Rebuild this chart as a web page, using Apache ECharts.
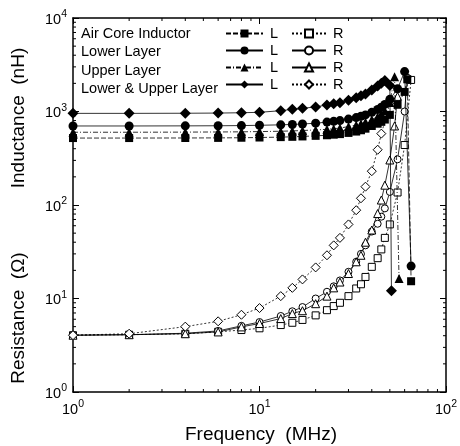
<!DOCTYPE html>
<html>
<head>
<meta charset="utf-8">
<script src="https://cdn.jsdelivr.net/npm/echarts@6/dist/echarts.min.js"></script>
<style>
  html, body { margin: 0; padding: 0; background: #fff; }
  #chart { width: 460px; height: 446px; }
</style>
</head>
<body>
<div id="chart"></div>
<script>
// Measured inductance (nH) and resistance (Ω) versus frequency (MHz)
const categories = ['Air Core Inductor', 'Lower Layer', 'Upper Layer', 'Lower & Upper Layer'];

const freqAirL = [1,2,4,6,8,10,13,15,17,20,23,25,27,30,33,35,37,40,43,45,47,50,55,60,62,65];
const airL     = [520,520,521,522,524,527,532,536,541,549,557,565,573,590,610,630,655,700,740,775,820,920,1180,1620,2210,15.3];
const freqAirR = [1,2,4,6,8,10,13,15,17,20,23,25,27,30,33,35,37,40,43,45,47,50,55,60,65];
const airR     = [4.05,4.1,4.2,4.4,4.6,4.8,5.2,5.5,5.9,6.6,7.5,8.3,9.0,10.6,12.8,14.2,17,21.8,27,33.5,44.5,62,136,438,2175];

const freqLowerL = [1,2,4,6,8,10,13,15,17,20,23,25,27,30,33,35,37,40,43,45,47,50,55,60,65];
const lowerL     = [700,700,702,704,707,712,720,727,735,750,770,785,800,830,860,890,920,980,1050,1110,1190,1350,1750,2670,22.2];
const freqLowerR = [1,2,4,6,8,10,13,15,17,20,23,25,27,30,33,35,37,40,43,45,47,50,55,60,62];
const lowerR     = [4.05,4.1,4.25,4.5,5.1,5.6,6.5,7.3,8.1,10,11.8,13.5,15.6,19.3,24.7,30,37,52,63,75,92,138,308,1000,2300];

const freqUpperL = [1,2,4,6,8,10,13,15,17,20,23,25,27,30,33,35,37,40,43,45,47,50,53,56];
const upperL     = [600,600,602,604,606,610,615,620,626,635,645,655,665,690,715,740,770,820,880,940,1020,1250,2350,16.4];
const freqUpperR = [1,2,4,6,8,10,13,15,17,20,23,25,27,30,33,35,37,40,43,45,47,50,53,55];
const upperR     = [4.05,4.1,4.2,4.39,4.97,5.4,6.1,6.9,7.4,8.8,10.6,13,15,18.5,24.7,29,40,54,81,113,163,303,700,1450];

const freqBothL = [1,2,4,6,8,10,13,15,17,20,23,25,27,30,33,35,37,40,43,45,47,50,51];
const bothL     = [955,955,958,962,970,980,1020,1055,1080,1120,1175,1210,1240,1320,1400,1470,1540,1700,1870,2000,2150,1900,12.1];
const freqBothR = [1,2,4,6,8,10,13,15,17,20,23,25,27,30,33,35,37,40,43,45,48,50];
const bothR     = [4.05,4.2,5.0,5.7,6.7,7.9,10.6,13,16,21.5,29,37,44.5,62,88,118,157,230,390,580,900,1250];

// Axis ranges and minor tick positions
const X_MIN = 1, X_MAX = 100, Y_MIN = 1, Y_MAX = 10000;
const minorSteps = [2,3,4,5,6,7,8,9];
const xDecades = [1, 10];
const yDecades = [1, 10, 100, 1000];

const FONT = '"Liberation Sans", Arial, sans-serif';

function pairs(xs, ys) { return xs.map((x, i) => [x, ys[i]]); }

const xMinor = [];
xDecades.forEach(d => minorSteps.forEach(s => xMinor.push([d * s, Y_MIN])));
const yMinor = [];
yDecades.forEach(d => minorSteps.forEach(s => yMinor.push([X_MIN, d * s])));

function tickLine(x1, y1, x2, y2) {
  return { type: 'line', shape: { x1, y1, x2, y2 }, style: { stroke: '#000', lineWidth: 1 } };
}
function renderXMinor(params, api) {
  const v = api.value(0);
  const b = api.coord([v, Y_MIN]);
  const t = api.coord([v, Y_MAX]);
  return { type: 'group', children: [tickLine(b[0], b[1], b[0], b[1] - 3), tickLine(t[0], t[1], t[0], t[1] + 3)] };
}
function renderYMinor(params, api) {
  const v = api.value(1);
  const l = api.coord([X_MIN, v]);
  const r = api.coord([X_MAX, v]);
  return { type: 'group', children: [tickLine(l[0], l[1], l[0] + 3, l[1]), tickLine(r[0], r[1], r[0] - 3, r[1])] };
}

function powLabel(value) {
  const e = Math.round(Math.log10(value));
  return '{b|10}{s|' + e + '}';
}
const powRich = {
  b: { fontSize: 14.5, fontFamily: FONT, color: '#000', lineHeight: 18, verticalAlign: 'bottom' },
  s: { fontSize: 10.5, fontFamily: FONT, color: '#000', lineHeight: 10, verticalAlign: 'top' }
};

const solid = 'solid';
function mk(name, xs, ys, symbol, size, filled, lineType) {
  return {
    name: name,
    type: 'line',
    data: pairs(xs, ys),
    symbol: symbol,
    symbolSize: size,
    showAllSymbol: true,
    xAxisIndex: 0, yAxisIndex: 0,
    lineStyle: { color: '#000', width: 0.8, type: lineType },
    itemStyle: filled ? { color: '#000', borderColor: '#000', borderWidth: 0 }
                      : { color: '#fff', borderColor: '#000', borderWidth: 1 },
    emphasis: { disabled: true },
    z: filled ? 3 : 2
  };
}

const seriesL = [
  mk(categories[0] + ' L', freqAirL, airL, 'rect', 8, true, [5, 2]),
  mk(categories[1] + ' L', freqLowerL, lowerL, 'circle', 9, true, solid),
  mk(categories[2] + ' L', freqUpperL, upperL, 'triangle', 9, true, [5, 2, 1, 2]),
  mk(categories[3] + ' L', freqBothL, bothL, 'diamond', 11, true, solid)
];
const seriesR = [
  mk(categories[0] + ' R', freqAirR, airR, 'rect', 7, false, [2, 2]),
  mk(categories[1] + ' R', freqLowerR, lowerR, 'circle', 7, false, solid),
  mk(categories[2] + ' R', freqUpperR, upperR, 'triangle', 8, false, solid),
  mk(categories[3] + ' R', freqBothR, bothR, 'diamond', 9, false, [2, 2])
];

const axisLineStyle = { color: '#000', width: 1.5 };

const legendText = { fontSize: 14.5, fontFamily: FONT, color: '#000', padding: [0, 0, 0, 2] };

const chart = echarts.init(document.getElementById('chart'), null, { renderer: 'canvas' });
chart.setOption({
  animation: false,
  backgroundColor: '#fff',
  grid: { left: 73, right: 14, top: 18, bottom: 54, containLabel: false },
  xAxis: [
    {
      type: 'log', logBase: 10, min: X_MIN, max: X_MAX, position: 'bottom',
      axisLine: { show: true, lineStyle: axisLineStyle },
      axisTick: { show: true, inside: true, length: 6, lineStyle: { color: '#000', width: 1 } },
      splitLine: { show: false },
      axisLabel: { formatter: powLabel, rich: powRich, margin: 7 }
    },
    {
      type: 'log', logBase: 10, min: X_MIN, max: X_MAX, position: 'top',
      axisLine: { show: true, lineStyle: axisLineStyle },
      axisTick: { show: true, inside: true, length: 6, lineStyle: { color: '#000', width: 1 } },
      splitLine: { show: false },
      axisLabel: { show: false }
    }
  ],
  yAxis: [
    {
      type: 'log', logBase: 10, min: Y_MIN, max: Y_MAX, position: 'left',
      axisLine: { show: true, lineStyle: axisLineStyle },
      axisTick: { show: true, inside: true, length: 6, lineStyle: { color: '#000', width: 1 } },
      splitLine: { show: false },
      axisLabel: { formatter: powLabel, rich: powRich, margin: 6 }
    },
    {
      type: 'log', logBase: 10, min: Y_MIN, max: Y_MAX, position: 'right',
      axisLine: { show: true, lineStyle: axisLineStyle },
      axisTick: { show: true, inside: true, length: 6, lineStyle: { color: '#000', width: 1 } },
      splitLine: { show: false },
      axisLabel: { show: false }
    }
  ],
  legend: [
    {
      data: seriesL.map(s => s.name),
      orient: 'vertical', left: 225, top: 26, padding: 0,
      itemWidth: 37, itemHeight: 10, itemGap: 2,
      selectedMode: false,
      formatter: () => 'L',
      textStyle: legendText
    },
    {
      data: seriesR.map(s => s.name),
      orient: 'vertical', left: 291, top: 26, padding: 0,
      itemWidth: 34, itemHeight: 10, itemGap: 2,
      selectedMode: false,
      formatter: () => 'R',
      textStyle: legendText
    }
  ],
  graphic: [
    ...categories.map((c, i) => ({
      type: 'text', left: 81, top: 26 + i * 18.5,
      style: { text: c, font: '14.5px ' + FONT, fill: '#000' }
    })),
    {
      type: 'text', x: 19, y: 118, rotation: Math.PI / 2,
      style: { text: 'Inductance  (nH)', font: '19px ' + FONT, fill: '#000', align: 'center', verticalAlign: 'middle' }
    },
    {
      type: 'text', x: 19, y: 318, rotation: Math.PI / 2,
      style: { text: 'Resistance  (Ω)', font: '19px ' + FONT, fill: '#000', align: 'center', verticalAlign: 'middle' }
    },
    {
      type: 'text', x: 261, y: 435,
      style: { text: 'Frequency  (MHz)', font: '19px ' + FONT, fill: '#000', align: 'center', verticalAlign: 'middle' }
    }
  ],
  series: [
    ...seriesL,
    ...seriesR,
    { type: 'custom', name: 'xMinor', data: xMinor, renderItem: renderXMinor, silent: true, xAxisIndex: 0, yAxisIndex: 0, clip: false },
    { type: 'custom', name: 'yMinor', data: yMinor, renderItem: renderYMinor, silent: true, xAxisIndex: 0, yAxisIndex: 0, clip: false }
  ]
});
</script>
</body>
</html>
